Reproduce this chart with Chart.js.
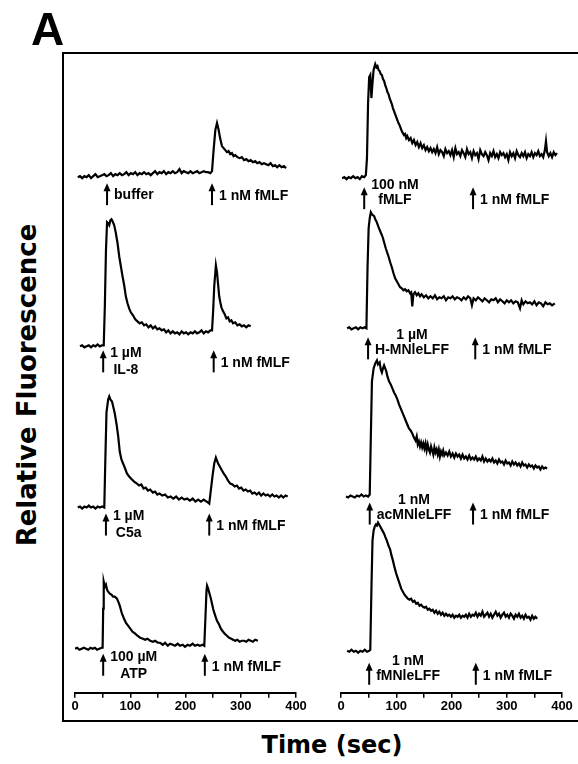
<!DOCTYPE html>
<html><head><meta charset="utf-8">
<script src="https://cdn.jsdelivr.net/npm/chart.js@4.4.1/dist/chart.umd.min.js"></script>
<style>
html,body{margin:0;padding:0;background:#fff;width:578px;height:764px;overflow:hidden;}
#frame{position:absolute;left:62px;top:52px;width:540px;height:666px;border:2px solid #000;}
canvas{position:absolute;}
#cL{left:64px;top:54px;}
#cR{left:318px;top:54px;}
.t{position:absolute;color:#000;font-weight:bold;white-space:nowrap;}
#lblA{left:31px;top:6px;font:bold 46px/46px "Liberation Sans",Arial,sans-serif;}
#xTitle{left:182px;width:300px;top:733px;text-align:center;font:bold 24px/24px "DejaVu Sans",sans-serif;}
#yTitle{left:-173px;width:400px;top:370px;height:30px;text-align:center;font:bold 26px/30px "DejaVu Sans",sans-serif;transform:rotate(-90deg);transform-origin:50% 50%;}
</style></head><body>
<div id="frame"></div>
<canvas id="cL" width="249" height="666"></canvas>
<canvas id="cR" width="260" height="666"></canvas>
<div class="t" id="lblA">A</div>
<div class="t" id="xTitle">Time (sec)</div>
<div class="t" id="yTitle">Relative Fluorescence</div>
<script>
// ---- data: [time (sec), fluorescence above own baseline] ----
const buffer = [[5,0],[9,1],[13,-1],[17,1],[21,0],[25,2],[29,-1],[33,1],[37,3],[41,0],[45,1],[49,2],[53,3],[57,1],[61,2],[65,4],[69,1],[73,3],[77,2],[81,4],[85,2],[89,3],[93,5],[97,2],[101,4],[105,3],[109,5],[113,2],[117,4],[121,3],[125,5],[129,3],[133,4],[137,2],[141,4],[145,6],[149,3],[153,5],[157,4],[161,6],[165,3],[169,5],[173,4],[177,6],[181,4],[185,5],[189,8],[193,4],[197,6],[201,5],[205,4],[209,6],[213,4],[217,5],[221,6],[225,4],[229,5],[233,6],[237,5],[241,5],[245,4],[248,6],[251,28],[254,47],[257,54],[260,47],[263,38],[266,31],[269,29],[272,27],[275,25],[278,26],[281,23],[284,24],[287,21],[290,22],[294,20],[298,19],[302,20],[306,17],[310,18],[314,16],[318,17],[322,15],[326,16],[330,14],[334,15],[338,13],[342,14],[346,13],[350,12],[354,14],[358,11],[362,12],[366,10],[370,12],[374,10],[378,11],[382,9]];
const il8 = [[9,0],[13,1],[17,-1],[21,0],[25,1],[29,-1],[33,1],[37,0],[41,2],[45,0],[49,1],[52,1],[54,40],[56,95],[58,124],[60,123],[62,121],[64,126],[66,127],[68,125],[71,121],[74,113],[77,103],[80,90],[83,80],[86,70],[89,61],[92,50],[95,43],[98,38],[101,34],[105,31],[109,27],[113,25],[117,23],[121,24],[125,21],[129,22],[133,19],[137,21],[141,18],[145,20],[149,17],[153,18],[157,16],[161,17],[165,14],[169,16],[173,13],[177,15],[181,13],[185,14],[189,12],[193,15],[197,13],[201,14],[205,12],[209,14],[213,13],[217,15],[221,13],[225,14],[229,16],[233,13],[237,15],[241,14],[245,16],[248,16],[250,35],[252,60],[255,81],[257,74],[259,62],[261,50],[263,44],[265,39],[268,35],[271,32],[274,28],[277,29],[280,25],[283,26],[286,23],[290,24],[294,21],[298,22],[302,20],[306,21],[310,19],[314,21],[318,20]];
const c5a = [[5,0],[9,1],[13,-1],[17,1],[21,0],[25,2],[29,0],[33,1],[37,-1],[41,1],[45,0],[49,1],[53,0],[55,50],[57,95],[60,108],[62,111],[64,108],[67,106],[70,99],[72,94],[75,84],[78,72],[81,56],[84,48],[87,44],[90,40],[94,34],[98,31],[103,28],[107,26],[112,24],[116,22],[120,23],[124,19],[128,20],[132,17],[136,18],[141,15],[145,16],[149,13],[153,14],[158,12],[163,13],[168,10],[173,11],[178,9],[183,11],[188,8],[193,10],[198,8],[203,9],[208,7],[213,9],[218,6],[223,8],[228,6],[233,8],[238,6],[241,5],[243,4],[246,18],[249,32],[252,44],[255,50],[257,47],[259,44],[261,42],[264,39],[266,37],[269,34],[273,31],[277,27],[281,24],[285,23],[289,21],[293,22],[297,19],[301,20],[305,17],[309,18],[313,16],[317,17],[321,14],[325,15],[329,13],[333,15],[337,12],[341,14],[345,12],[349,13],[353,11],[357,13],[361,11],[365,12],[369,10],[373,12],[377,10],[381,12],[385,11]];
const atp = [[0,0],[4,1],[8,-1],[12,0],[16,1],[20,0],[24,-1],[28,1],[32,0],[36,1],[40,-1],[44,0],[48,1],[50,1],[51,40],[52,67],[54,62],[56,64],[58,59],[60,57],[63,55],[66,54],[69,52],[72,52],[76,50],[79,46],[81,43],[83,39],[85,35],[88,31],[92,26],[96,23],[100,20],[104,17],[109,15],[113,13],[118,11],[123,10],[127,9],[131,10],[136,8],[141,7],[145,8],[150,6],[154,6],[159,4],[163,6],[168,3],[172,5],[177,4],[181,3],[186,5],[190,3],[195,4],[199,2],[204,4],[208,3],[213,5],[217,3],[222,4],[226,3],[231,4],[234,3],[236,30],[238,58],[239,63],[241,60],[243,56],[246,50],[248,45],[250,40],[252,36],[255,31],[257,28],[261,24],[264,20],[268,17],[271,15],[275,13],[279,11],[283,10],[286,9],[290,8],[294,9],[298,7],[302,8],[306,8],[310,7],[314,9],[318,8],[322,7],[326,9],[331,8]];
const fmlf100 = [[2,0],[6,1],[10,-1],[14,1],[18,0],[22,2],[26,0],[30,1],[34,-1],[38,2],[42,1],[45,3],[47,20],[49,75],[51,101],[53,103],[55,80],[57,95],[59,108],[62,114],[64,111],[66,112],[68,108],[70,107],[72,104],[74,103],[76,99],[78,97],[80,93],[82,90],[84,86],[86,84],[88,80],[90,77],[92,74],[94,70],[96,67],[98,64],[100,61],[102,58],[104,55],[106,53],[108,50],[110,47],[112,45],[114,43],[116,44],[118,40],[120,42],[123,38],[126,40],[129,35],[132,38],[135,33],[138,36],[141,31],[144,35],[147,30],[150,33],[153,28],[156,31],[159,27],[162,30],[165,26],[168,29],[171,25],[174,31],[177,24],[180,28],[183,26],[186,22],[189,29],[192,25],[195,27],[198,23],[201,28],[204,21],[207,30],[210,24],[213,26],[216,22],[219,28],[222,25],[225,21],[228,29],[231,24],[234,26],[237,20],[240,27],[243,23],[246,25],[249,19],[252,28],[255,24],[258,22],[261,26],[264,23],[267,18],[270,25],[273,22],[276,27],[279,21],[282,24],[285,20],[288,26],[291,23],[294,25],[297,21],[300,24],[303,18],[306,26],[309,22],[312,25],[315,20],[318,27],[321,23],[324,21],[327,25],[330,22],[333,26],[336,20],[339,24],[342,22],[345,26],[348,21],[351,25],[354,23],[357,27],[360,22],[363,24],[366,21],[369,28],[371,37],[373,26],[376,22],[379,25],[382,21],[385,26],[388,23],[391,25]];
const hmnle = [[11,0],[15,1],[19,-1],[23,0],[27,1],[31,-1],[35,1],[39,0],[43,1],[46,0],[48,60],[50,100],[52,110],[54,116],[56,114],[58,113],[60,112],[62,109],[64,107],[66,104],[68,101],[71,97],[74,93],[76,90],[78,86],[81,80],[84,75],[87,70],[89,66],[92,61],[95,55],[98,50],[101,47],[104,44],[107,41],[110,40],[113,38],[116,39],[119,37],[122,38],[125,35],[127,36],[129,22],[131,34],[134,36],[137,33],[140,35],[143,32],[146,34],[150,31],[154,33],[158,30],[162,32],[166,30],[170,33],[174,29],[178,31],[182,30],[186,32],[190,28],[194,31],[198,30],[202,32],[206,29],[210,31],[214,30],[218,28],[222,31],[226,29],[230,32],[234,30],[237,23],[240,30],[244,28],[248,31],[252,29],[256,27],[260,30],[264,28],[268,26],[272,29],[276,28],[280,30],[284,26],[288,29],[292,27],[296,25],[300,28],[304,26],[308,28],[312,25],[316,27],[320,26],[324,20],[327,28],[330,24],[334,27],[338,25],[342,26],[346,24],[350,27],[354,23],[358,26],[362,25],[366,22],[370,26],[374,24],[378,25],[382,23],[387,25]];
const acmnle = [[9,0],[13,-1],[17,1],[21,0],[25,-1],[29,1],[33,0],[37,2],[41,0],[45,1],[49,0],[52,2],[54,60],[56,115],[59,128],[62,133],[65,136],[67,132],[70,134],[72,127],[74,124],[76,128],[78,131],[80,128],[82,125],[84,120],[87,115],[90,112],[93,108],[96,104],[99,101],[102,97],[105,92],[108,88],[111,84],[114,80],[117,76],[120,72],[123,68],[126,66],[129,63],[132,59],[135,56],[137,60],[139,52],[141,55],[143,50],[145,54],[147,49],[149,53],[151,48],[153,53],[155,46],[157,52],[159,47],[161,44],[163,50],[165,46],[167,42],[169,49],[171,44],[173,47],[175,42],[177,47],[179,40],[181,45],[183,42],[185,46],[187,41],[190,44],[193,41],[196,45],[199,40],[202,43],[205,39],[208,43],[211,40],[214,42],[217,38],[220,42],[223,38],[226,40],[229,37],[232,41],[235,37],[238,39],[241,37],[244,40],[247,36],[250,38],[253,36],[256,40],[259,35],[262,38],[265,35],[268,37],[271,35],[274,38],[277,34],[280,36],[283,33],[286,37],[289,34],[292,35],[295,32],[298,36],[301,33],[304,34],[307,31],[310,35],[313,32],[316,34],[319,31],[322,33],[325,30],[328,34],[331,31],[334,32],[337,29],[340,32],[343,30],[346,31],[349,28],[352,31],[355,29],[358,30],[361,27],[364,30],[367,28],[370,29],[373,28]];
const fmnle = [[11,0],[15,-1],[19,1],[23,-1],[27,0],[31,-2],[35,0],[39,-1],[43,1],[47,-1],[51,0],[53,1],[55,60],[57,110],[59,120],[61,124],[63,126],[65,125],[67,128],[69,126],[71,124],[73,122],[75,120],[78,117],[80,114],[83,110],[86,105],[89,101],[91,96],[94,90],[97,83],[100,77],[103,72],[106,67],[109,62],[112,59],[115,56],[118,54],[121,52],[124,51],[127,52],[130,49],[133,50],[136,47],[139,48],[142,45],[145,46],[148,44],[151,43],[154,44],[157,41],[160,42],[163,40],[166,41],[169,38],[172,40],[175,37],[178,39],[181,36],[184,38],[187,35],[190,37],[193,35],[196,36],[199,34],[202,36],[205,33],[208,35],[211,34],[214,36],[217,33],[220,35],[223,34],[226,36],[229,33],[232,37],[235,34],[238,36],[241,35],[244,38],[247,34],[250,37],[253,35],[256,39],[259,34],[262,36],[265,38],[268,34],[271,37],[274,33],[277,36],[280,39],[283,35],[286,37],[289,33],[292,36],[295,38],[298,34],[301,36],[304,33],[307,37],[310,35],[313,32],[316,36],[319,34],[322,37],[325,33],[328,35],[331,32],[334,36],[337,33],[340,34],[343,31],[346,35],[349,32],[352,34],[355,32]];

// ---- additions (arrows) ----
const leftFirstTimes = [58, 51, 56, 51];
const leftFirstLabels = [['buffer'], ['1 µM', 'IL-8'], ['1 µM', 'C5a'], ['100 µM', 'ATP']];
const leftSecondTimes = [248, 251, 243, 235];
const rightFirstTimes = [42, 49, 52, 51];
const rightFirstLabels = [['100 nM', 'fMLF'], ['1 µM', 'H-MNleLFF'], ['1 nM', 'acMNleLFF'], ['1 nM', 'fMNleLFF']];
const rightSecondTimes = [239, 243, 239, 244];
const secondLabel = '1 nM fMLF';
const xTicks = [0, 100, 200, 300, 400];

// ---- layout (stacking offsets / styles) ----
const leftOffsets = [515, 346, 185, 44];
const rightOffsets = [514, 364, 196, 42];
const leftDrops = [6, 4, 6, 5];
const rightDrops = [9, 9, 6, 12];

function drawArrow(ctx, x, top) {
  ctx.lineWidth = 2;
  ctx.beginPath(); ctx.moveTo(x, top + 5); ctx.lineTo(x, top + 22); ctx.stroke();
  ctx.beginPath(); ctx.moveTo(x, top); ctx.lineTo(x - 3.5, top + 8); ctx.lineTo(x + 3.5, top + 8); ctx.closePath(); ctx.fill();
}

function addsPlugin(cfg) {
  return {
    id: 'adds',
    afterDatasetsDraw(chart) {
      const ctx = chart.ctx, x = chart.scales.x, y = chart.scales.y;
      ctx.save();
      ctx.fillStyle = '#000'; ctx.strokeStyle = '#000';
      ctx.font = 'bold 14px "Liberation Sans", Arial, sans-serif';
      ctx.textBaseline = 'middle';
      cfg.offsets.forEach((off, i) => {
        const top = y.getPixelForValue(off) + cfg.drops[i];
        const ax = x.getPixelForValue(cfg.firstTimes[i]);
        drawArrow(ctx, ax, top);
        const lines = cfg.firstLabels[i];
        if (lines.length === 1) {
          ctx.textAlign = 'left'; ctx.fillText(lines[0], ax + 7, top + 12);
        } else {
          const w = Math.max(...lines.map(s => ctx.measureText(s).width));
          const cx = ax + 7 + w / 2;
          ctx.textAlign = 'center';
          ctx.fillText(lines[0], cx, top + cfg.l1);
          ctx.fillText(lines[1], cx, top + cfg.l2);
        }
        const bx = x.getPixelForValue(cfg.secondTimes[i]);
        drawArrow(ctx, bx, top);
        ctx.textAlign = 'left';
        ctx.fillText(secondLabel, bx + 7, top + 13);
      });
      ctx.restore();
    }
  };
}

function makeChart(id, traces, offsets, padL, padR, cfg) {
  const datasets = traces.map((tr, i) => ({
    data: tr.map(p => ({ x: p[0], y: p[1] + offsets[i] })),
    borderColor: '#000', borderWidth: 2.2, pointRadius: 0, tension: 0, fill: false
  }));
  return new Chart(document.getElementById(id), {
    type: 'line',
    data: { datasets },
    options: {
      responsive: false, animation: false, devicePixelRatio: 1,
      layout: { padding: { left: padL, right: padR, top: 0, bottom: 4.6 } },
      plugins: { legend: { display: false }, tooltip: { enabled: false } },
      scales: {
        x: {
          type: 'linear', min: 0, max: 400,
          ticks: { stepSize: 50, autoSkip: false, maxRotation: 0, padding: 1, color: '#000',
            font: { family: '"Liberation Sans", Arial, sans-serif', weight: 'bold', size: 13 },
            callback: v => xTicks.includes(v) ? String(v) : '' },
          grid: { drawOnChartArea: false, drawTicks: true, tickLength: 5, color: '#000', lineWidth: 1.5 },
          border: { display: true, color: '#000', width: 2 }
        },
        y: { display: false, min: 0, max: 638 }
      }
    },
    plugins: [addsPlugin(cfg)]
  });
}

makeChart('cL', [buffer, il8, c5a, atp], leftOffsets, 11, 17,
  { offsets: leftOffsets, drops: leftDrops, firstTimes: leftFirstTimes, firstLabels: leftFirstLabels, secondTimes: leftSecondTimes, l1: 3, l2: 20 });
makeChart('cR', [fmlf100, hmnle, acmnle, fmnle], rightOffsets, 23, 16,
  { offsets: rightOffsets, drops: rightDrops, firstTimes: rightFirstTimes, firstLabels: rightFirstLabels, secondTimes: rightSecondTimes, l1: -2, l2: 13 });
</script>
</body></html>
